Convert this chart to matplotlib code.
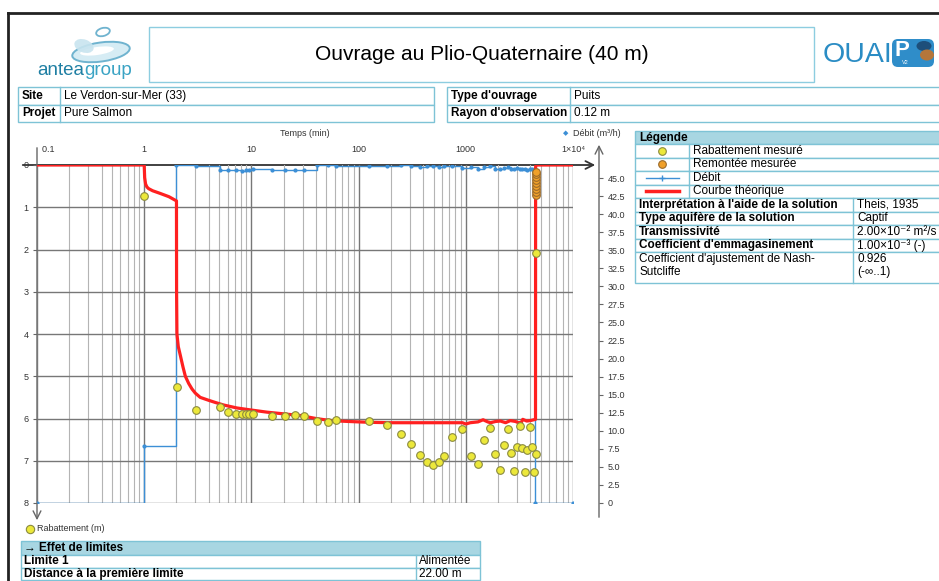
import numpy as np
import matplotlib
matplotlib.use('Agg')
import matplotlib.pyplot as plt
from matplotlib.patches import Rectangle, Ellipse, FancyBboxPatch

plt.rcParams['font.family'] = ['Liberation Sans', 'DejaVu Sans']

# === Données ===
# Rabattement mesuré : temps (min) / rabattement (m)
t_mes = [1.0, 2.03, 3.06, 5.1, 6.1, 7.2, 8.1, 8.9, 9.6, 10.4,
         15.4, 20.5, 25.6, 30.8, 41, 51.7, 61.4, 124, 185, 247,
         311, 371, 432, 499, 559, 627, 751, 931, 1130, 1303,
         1483, 1687, 1866, 2080, 2250, 2450, 2635, 2830, 3000, 3200,
         3360, 3580, 3715, 3940, 4110, 4320, 4500, 4510]
s_mes = [0.73, 5.25, 5.79, 5.73, 5.84, 5.89, 5.89, 5.89, 5.89, 5.89,
         5.93, 5.94, 5.91, 5.93, 6.06, 6.08, 6.04, 6.05, 6.16, 6.37,
         6.61, 6.87, 7.04, 7.10, 7.04, 6.88, 6.44, 6.26, 6.89, 7.07,
         6.52, 6.23, 6.84, 7.22, 6.62, 6.24, 6.82, 7.25, 6.67, 6.17,
         6.71, 7.27, 6.74, 6.19, 6.68, 7.27, 6.83, 2.09]

# Remontée mesurée
t_rem = [4520, 4525, 4530, 4535, 4540, 4545, 4550, 4555, 4560]
s_rem = [0.70, 0.63, 0.56, 0.49, 0.42, 0.35, 0.28, 0.22, 0.17]

# Courbe théorique (Theis)
t_theo = [0.1, 1.0, 1.01, 1.03, 1.06, 1.1, 1.2, 1.4, 1.7, 2.0,
          2.005, 2.02, 2.08, 2.17, 2.3, 2.42, 2.6, 2.79, 3.0, 3.33,
          4.0, 4.6, 5.5, 7.3, 10, 14, 20, 28.7, 40, 55,
          80, 124, 200, 930, 1000, 1100, 1300, 1450, 1600, 1700,
          1900, 2100, 2350, 2600, 2900, 3100, 3300, 3400, 3700, 4000,
          4470, 4480, 4520, 1e4]
s_theo = [0, 0, 0.3, 0.45, 0.52, 0.56, 0.61, 0.67, 0.75, 0.85,
          3.0, 4.0, 4.3, 4.5, 4.78, 5.0, 5.17, 5.3, 5.4, 5.5,
          5.57, 5.62, 5.68, 5.75, 5.8, 5.85, 5.89, 5.93, 6.0, 6.05,
          6.07, 6.09, 6.1, 6.1, 6.13, 6.1, 6.08, 6.03, 6.08, 6.1,
          6.07, 6.06, 6.1, 6.05, 6.07, 6.1, 6.09, 6.02, 6.06, 6.05,
          6.02, 0.05, 0, 0]

# Débit (m3/h)
t_q = [0.1, 1.0, 2.0, 3.06, 5.1, 6.1, 7.2, 8.1, 8.9, 9.6,
       10.4, 15.4, 20.5, 25.6, 30.8, 41, 51.7, 61.4, 124, 185,
       247, 311, 371, 432, 499, 559, 627, 751, 931, 1130,
       1303, 1483, 1687, 1866, 2080, 2250, 2450, 2635, 2830, 3000,
       3200, 3360, 3580, 3715, 3940, 4110, 4320, 4450, 1e4]
q = [0, 7.9, 46.8, 46.6, 46.1, 46.1, 46.1, 46.0, 46.1, 46.1,
     46.2, 46.1, 46.1, 46.1, 46.1, 46.8, 46.8, 46.7, 46.7, 46.6,
     46.8, 46.6, 46.5, 46.7, 46.6, 46.5, 46.6, 46.6, 46.4, 46.5,
     46.3, 46.5, 46.6, 46.3, 46.2, 46.4, 46.5, 46.3, 46.2, 46.4,
     46.3, 46.2, 46.3, 46.1, 46.3, 46.2, 46.0, 0, 0]

x_ticks = [0.1, 1, 10, 100, 1000, 1e4]
x_labels = ['  0.1', '1', '10', '100', '1000', '1×10⁴']
s_ticks = [0, 1, 2, 3, 4, 5, 6, 7, 8]
q_ticks = list(np.arange(0, 45.1, 2.5))

params = [("Interprétation à l'aide de la solution", 'Theis, 1935'),
          ('Type aquifère de la solution', 'Captif'),
          ('Transmissivité', '2.00×10⁻² m²/s'),
          ("Coefficient d'emmagasinement", '1.00×10⁻³ (-)')]

# couleurs
BORD = '#7ec3d6'
ENTETE = '#a8d6e2'
JAUNE, JAUNE_BORD = '#ece83a', '#8a8a40'
ORANGE, ORANGE_BORD = '#f0a02a', '#9a6a2a'
BLEU = '#3c8fd6'
ROUGE = '#ff2020'

W, H = 939, 581
fig = plt.figure(figsize=(W / 100, H / 100), dpi=100)
fig.patch.set_facecolor('white')

# fond en coordonnées pixel
bg = fig.add_axes([0, 0, 1, 1])
bg.set_xlim(0, W)
bg.set_ylim(H, 0)
bg.axis('off')
bg.set_zorder(0)

# cadre de page
bg.plot([8, W], [13, 13], color='#222222', lw=2)
bg.plot([8, 8], [13, H], color='#222222', lw=2)

# logo antea
bg.add_patch(Ellipse((101, 52), 58, 19, angle=-8, fc='#d6ecf4', ec='#6fb3cf', lw=1.4))
bg.add_patch(Ellipse((97, 51), 34, 8, angle=-8, fc='white', ec='none'))
bg.add_patch(Ellipse((84, 46), 20, 13, angle=20, fc='#c8e4ef', ec='none', alpha=0.9))
bg.add_patch(Ellipse((103, 32), 14, 8, angle=-15, fc='none', ec='#6fb3cf', lw=1.3))
t1 = bg.text(37, 75, 'antea', color='#1f7fa3', fontsize=13.5, ha='left', va='baseline')
bg.annotate('group', xy=(1, 0), xycoords=t1, color='#3aa3c4', fontsize=13.5,
            ha='left', va='bottom')

# titre
bg.add_patch(Rectangle((149, 27), 665, 55, fc='white', ec='#8dcde0', lw=1))
bg.text(482, 55, 'Ouvrage au Plio-Quaternaire (40 m)', fontsize=15, ha='center', va='center')

# logo OUAIP
bg.text(823, 55, 'OUAI', color='#2a8cc4', fontsize=20.5, ha='left', va='center')
bg.add_patch(FancyBboxPatch((892, 39), 42, 28, boxstyle='round,pad=0,rounding_size=6',
                            fc='#2f8dc9', ec='none'))
bg.add_patch(Ellipse((924, 46), 15, 10, fc='#1d4f7a', ec='none'))
bg.add_patch(Ellipse((927, 55), 14, 11, fc='#b5763a', ec='none'))
bg.text(902, 50, 'P', color='white', fontsize=16, fontweight='bold', ha='center', va='center')
bg.text(905, 62, 'V2', color='white', fontsize=4, ha='center', va='center')

# tableaux d'en-tête
def tableau(x0, x1, xcol, rows, y0=87, h=17.5, fs=8.5):
    for i, (lab, val) in enumerate(rows):
        y = y0 + i * h
        bg.add_patch(Rectangle((x0, y), x1 - x0, h, fc='white', ec=BORD, lw=1))
        bg.plot([xcol, xcol], [y, y + h], color=BORD, lw=1)
        bg.text(x0 + 4, y + h / 2, lab, fontsize=fs, fontweight='bold', va='center')
        bg.text(xcol + 4, y + h / 2, val, fontsize=fs, va='center')

tableau(18, 434, 60, [('Site', 'Le Verdon-sur-Mer (33)'), ('Projet', 'Pure Salmon')])
tableau(447, 950, 570, [("Type d'ouvrage", 'Puits'), ("Rayon d'observation", '0.12 m')])

# légende
lx0, lx1, lcol, vcol = 635, 950, 689, 853
bg.add_patch(Rectangle((lx0, 131), lx1 - lx0, 13.3, fc=ENTETE, ec=BORD, lw=1))
bg.text(lx0 + 4, 137.7, 'Légende', fontsize=8.5, fontweight='bold', va='center')
leg_rows = ['Rabattement mesuré', 'Remontée mesurée', 'Débit', 'Courbe théorique']
for i, lab in enumerate(leg_rows):
    y = 144.3 + i * 13.4
    bg.add_patch(Rectangle((lx0, y), lx1 - lx0, 13.4, fc='white', ec=BORD, lw=1))
    bg.plot([lcol, lcol], [y, y + 13.4], color=BORD, lw=1)
    bg.text(lcol + 4, y + 6.7, lab, fontsize=8.5, va='center')
yc = [144.3 + i * 13.4 + 6.7 for i in range(4)]
bg.plot([662], [yc[0]], 'o', ms=5.5, mfc=JAUNE, mec=JAUNE_BORD, mew=0.8)
bg.plot([662], [yc[1]], 'o', ms=5.5, mfc=ORANGE, mec=ORANGE_BORD, mew=0.8)
bg.plot([646, 679], [yc[2], yc[2]], color=BLEU, lw=1)
bg.plot([662], [yc[2]], '+', color=BLEU, ms=4, mew=1)
bg.plot([646, 679], [yc[3], yc[3]], color=ROUGE, lw=2.5)

py = 198
for lab, val in params:
    bg.add_patch(Rectangle((lx0, py), lx1 - lx0, 13.5, fc='white', ec=BORD, lw=1))
    bg.plot([vcol, vcol], [py, py + 13.5], color=BORD, lw=1)
    bg.text(lx0 + 4, py + 6.75, lab, fontsize=8.5, fontweight='bold', va='center')
    bg.text(vcol + 4, py + 6.75, val, fontsize=8.5, va='center')
    py += 13.5
bg.add_patch(Rectangle((lx0, py), lx1 - lx0, 283 - py, fc='white', ec=BORD, lw=1))
bg.plot([vcol, vcol], [py, 283], color=BORD, lw=1)
bg.text(lx0 + 4, py + 7, "Coefficient d'ajustement de Nash-", fontsize=8.5, va='center')
bg.text(lx0 + 4, py + 20, 'Sutcliffe', fontsize=8.5, va='center')
bg.text(vcol + 4, py + 7, '0.926', fontsize=8.5, va='center')
bg.text(vcol + 4, py + 20, '(-∞..1)', fontsize=8.5, va='center')

# effet de limites
bx0, bx1, bcol = 21, 480, 416
bg.add_patch(Rectangle((bx0, 541), bx1 - bx0, 14, fc=ENTETE, ec=BORD, lw=1))
bg.text(bx0 + 3, 548, '→ Effet de limites', fontsize=8.5, fontweight='bold', va='center')
for i, (lab, val) in enumerate([('Limite 1', 'Alimentée'),
                                ('Distance à la première limite', '22.00 m')]):
    y = 555 + i * 12.5
    bg.add_patch(Rectangle((bx0, y), bx1 - bx0, 12.5, fc='white', ec=BORD, lw=1))
    bg.plot([bcol, bcol], [y, y + 12.5], color=BORD, lw=1)
    bg.text(bx0 + 3, y + 6.5, lab, fontsize=8.5, fontweight='bold', va='center')
    bg.text(bcol + 3, y + 6.5, val, fontsize=8.5, va='center')

# axes avec flèches
bg.annotate('', xy=(598, 165), xytext=(20, 165),
            arrowprops=dict(arrowstyle='->', color='#333333', lw=1.3, mutation_scale=14))
bg.annotate('', xy=(37, 523), xytext=(37, 145),
            arrowprops=dict(arrowstyle='->', color='#666666', lw=1, mutation_scale=14))
bg.annotate('', xy=(599, 142), xytext=(599, 520),
            arrowprops=dict(arrowstyle='->', color='#666666', lw=1, mutation_scale=14))

bg.text(305, 134, 'Temps (min)', fontsize=6.5, color='#333333', ha='center', va='center')
bg.text(566, 134, '◆', fontsize=5, color=BLEU, ha='center', va='center')
bg.text(573, 134, 'Débit (m³/h)', fontsize=6.5, color='#333333', ha='left', va='center')
bg.plot([30], [528.5], 'o', ms=6, mfc=JAUNE, mec=JAUNE_BORD, mew=0.8)
bg.text(37, 528.5, 'Rabattement (m)', fontsize=6.5, color='#333333', ha='left', va='center')

# === Graphique ===
pos = [37 / W, 1 - 503 / H, 536 / W, 338 / H]
ax = fig.add_axes(pos)
ax2 = ax.twinx()
ax.set_zorder(2)
ax2.set_zorder(1)
ax.patch.set_visible(False)

ax.set_xscale('log')
ax.set_xlim(0.1, 1e4)
ax.set_ylim(8, 0)
ax2.set_ylim(0, 46.8)

# grille (sur l'axe du débit pour rester derrière les courbes)
for e in range(-1, 4):
    for m in range(2, 10):
        ax2.axvline(m * 10.0 ** e, color='#b4b4b4', lw=0.8, zorder=0)
for t in x_ticks:
    ax2.axvline(t, color='#777777', lw=1, zorder=0)
for s in s_ticks[1:]:
    ax2.plot([0, 1], [s, s], transform=ax.get_yaxis_transform(), color='#777777', lw=1, zorder=0)

# débit
ax2.plot(t_q, q, drawstyle='steps-post', color=BLEU, lw=1, marker='o', ms=2, zorder=2)

# courbe théorique et mesures
ax.plot(t_theo, s_theo, color=ROUGE, lw=2.3, zorder=3)
ax.plot(t_mes, s_mes, 'o', ms=5.5, mfc=JAUNE, mec=JAUNE_BORD, mew=0.8, zorder=4, clip_on=False)
ax.plot(t_rem, s_rem, 'o', ms=5.5, mfc=ORANGE, mec=ORANGE_BORD, mew=0.8, zorder=4, clip_on=False)

for a in (ax, ax2):
    for sp in a.spines.values():
        sp.set_visible(False)

ax.xaxis.set_ticks_position('top')
ax.set_xticks(x_ticks)
ax.set_xticklabels(x_labels)
ax.xaxis.set_minor_locator(matplotlib.ticker.NullLocator())
ax.tick_params(axis='x', which='both', length=0, pad=8, labelsize=6.5, labelcolor='#333333')
ax.get_xticklabels()[0].set_horizontalalignment('left')

ax.set_yticks(s_ticks)
ax.set_yticklabels([str(s) for s in s_ticks])
ax.tick_params(axis='y', length=3, width=0.8, color='#666666', pad=3,
               labelsize=6.5, labelcolor='#333333')

ax2.spines['right'].set_position(('axes', 562 / 536))
ax2.set_yticks(q_ticks)
ax2.set_yticklabels(['0' if v == 0 else f'{v:.1f}' for v in q_ticks])
ax2.tick_params(axis='y', length=3, width=0.8, color='#666666', pad=3,
                labelsize=6.5, labelcolor='#333333')

fig.savefig('out.png', dpi=100)
